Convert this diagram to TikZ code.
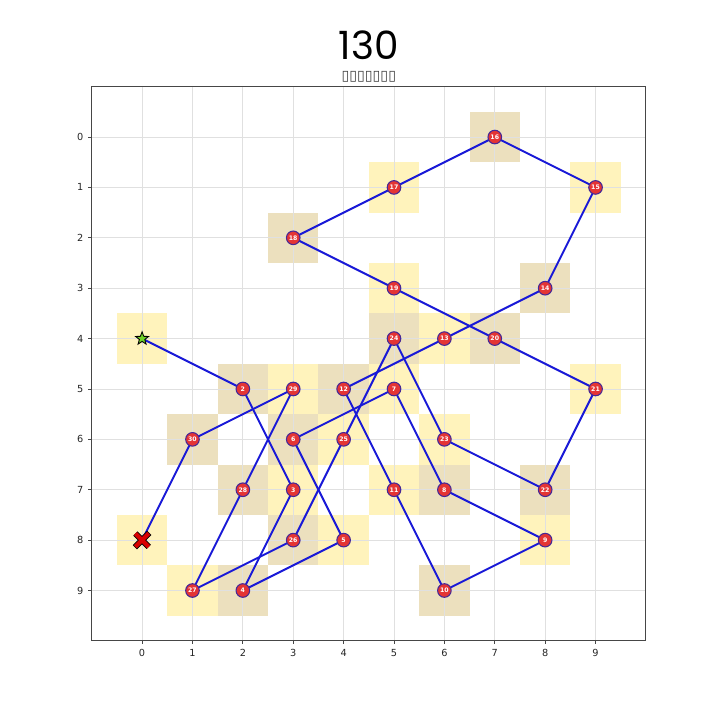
\documentclass[tikz,border=0pt]{standalone}
\usepackage{fontspec}
\setmainfont{DejaVu Sans}
\newfontfamily\titlefont{Poppins}
\usetikzlibrary{shapes.geometric}
\definecolor{cellyel}{RGB}{255,243,188}
\definecolor{celltan}{RGB}{236,224,190}
\definecolor{pathblue}{RGB}{25,25,215}
\definecolor{dotred}{RGB}{228,52,52}
\definecolor{dotedge}{RGB}{70,40,150}
\definecolor{startgreen}{RGB}{110,210,40}
\definecolor{gridgray}{RGB}{224,224,224}
\definecolor{framegray}{RGB}{70,70,70}
\pgfdeclarelayer{cells}
\pgfdeclarelayer{legs}
\pgfsetlayers{cells,legs,main}
\def\tourcells{2/2/5,3/3/7,4/2/9,5/4/8,6/3/6,7/5/5,8/6/7,9/8/8,10/6/9,11/5/7,12/4/5,13/6/4,14/8/3,15/9/1,16/7/0,17/5/1,18/3/2,19/5/3,20/7/4,21/9/5,22/8/7,23/6/6,24/5/4,25/4/6,26/3/8,27/1/9,28/2/7,29/3/5,30/1/6}

\begin{document}
\begin{tikzpicture}[x=1cm, y=-1cm,
  tourdot/.style={circle, fill=dotred, draw=dotedge, line width=0.6pt, inner sep=0pt, minimum size=0.27cm, text=white, font=\fontsize{3.5}{3.5}\selectfont\bfseries},
  tourleg/.style={pathblue, line width=1.1pt},
  startmark/.style={star, star points=5, star point ratio=2.4, fill=startgreen, draw=black, line width=0.5pt, inner sep=0pt, minimum size=0.27cm},
  goalmark/.style={circle, inner sep=0pt, minimum size=0.36cm},
  gridline/.style={gridgray, line width=0.5pt},
  ticklabel/.style={inner sep=0pt, font=\fontsize{5.5}{5.5}\selectfont, text=black!85}]
\begin{pgfonlayer}{cells}
\fill[white] (-2.82,-2.72) rectangle (11.47,11.57);
\fill[cellyel] (-0.5,3.5) rectangle ++(1,1);
\fill[cellyel] (-0.5,7.5) rectangle ++(1,1);
\foreach \i/\c/\r in \tourcells {
  \ifodd\i \def\cellcol{cellyel}\else \def\cellcol{celltan}\fi
  \fill[\cellcol] (\c-0.5,\r-0.5) rectangle ++(1,1);
}
\foreach \k in {0,...,9} {
  \draw[gridline] (\k,-1) -- (\k,10);
  \draw[gridline] (-1,\k) -- (10,\k);
}
\end{pgfonlayer}
\draw[framegray, line width=0.6pt] (-1,-1) rectangle (10,10);
\foreach \k in {0,...,9} {
  \draw[framegray, line width=0.5pt] (\k,10) -- (\k,10.07) node[below=2.5pt, ticklabel] (xt\k) {\k};
  \draw[framegray, line width=0.5pt] (-1,\k) -- (-1.07,\k) node[left=2.5pt, ticklabel] (yt\k) {\k};
}
\node[font=\titlefont\fontsize{22}{22}\selectfont] (plottitle) at (4.5,-1.83) {130};
\node[font=\fontsize{8}{8}\selectfont, text=black!75] (subtitle) at (4.5,-1.19) {▯▯▯▯▯▯▯};

\node[startmark] (start) at (0,4) {};
\node[goalmark] (goal) at (0,8) {};
\foreach \i/\c/\r in \tourcells {
  \node[tourdot] (n\i) at (\c,\r) {\i};
}
\begin{pgfonlayer}{legs}
\draw[tourleg] (start.center) -- (n2.center);
\foreach \i [evaluate=\i as \j using int(\i+1)] in {2,...,29}
  \draw[tourleg] (n\i.center) -- (n\j.center);
\draw[tourleg] (n30.center) -- (goal.center);
\end{pgfonlayer}
\draw[black, line width=3.4pt, shorten <=-0.4pt, shorten >=-0.4pt] (goal.north west) -- (goal.south east) (goal.north east) -- (goal.south west);
\draw[red!85!black, line width=2.4pt] (goal.north west) -- (goal.south east) (goal.north east) -- (goal.south west);
\end{tikzpicture}
\end{document}
